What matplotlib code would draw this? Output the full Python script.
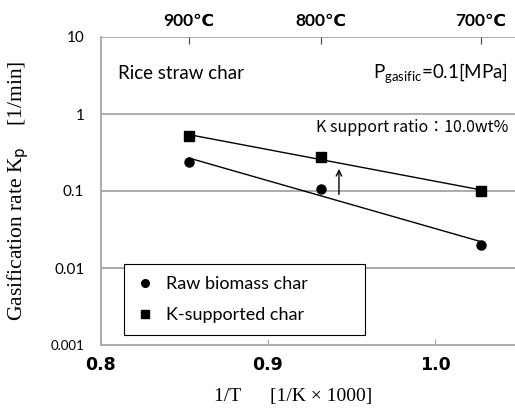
import numpy as np
import matplotlib
matplotlib.use("Agg")
import matplotlib.pyplot as plt
from matplotlib.lines import Line2D

# Data
temps_c = [900, 800, 700]
inv_T = [0.8525, 0.9319, 1.0276]          # 1/T [1/K x 1000]
raw_kp = [0.24, 0.106, 0.020]             # Raw biomass char
ksup_kp = [0.52, 0.274, 0.100]            # K-supported char
top_labels = ["900℃", "800℃", "700℃"]
x_ticks = [0.8, 0.9, 1.0]
x_ticklabels = ["0.8", "0.9", "1.0"]
y_ticks = [0.001, 0.01, 0.1, 1, 10]
y_ticklabels = ["0.001", "0.01", "0.1", "1", "10"]

sans = ["Lato", "DejaVu Sans"]
serif = ["Liberation Serif", "DejaVu Serif"]

fig = plt.figure(figsize=(5.15, 4.08), dpi=100)
ax = fig.add_axes([101/515, 1-345/408, 417.5/515, 308/408])
ax.set_yscale("log")
ax.set_xlim(0.8, 1.05)
ax.set_ylim(0.001, 10)

grid_c = "#a6a6a6"
for yv in y_ticks[1:]:
    ax.axhline(yv, color=grid_c, lw=1.3, zorder=0)

# exponential trend lines (least squares in log space)
xs = np.array(inv_T)
for vals in (raw_kp, ksup_kp):
    p = np.polyfit(xs, np.log10(vals), 1)
    xl = np.array([xs[0], xs[-1]])
    ax.plot(xl, 10**np.polyval(p, xl), color="black", lw=1.0, zorder=2)

ax.plot(inv_T, raw_kp, "o", color="black", ms=6.5, zorder=3, ls="none")
ax.plot(inv_T, ksup_kp, "s", color="black", ms=6.5, zorder=3, ls="none")

# spines
for s in ["top", "right"]:
    ax.spines[s].set_visible(False)
for s in ["left", "bottom"]:
    ax.spines[s].set_color(grid_c)
    ax.spines[s].set_linewidth(1.3)

ax.set_xticks(x_ticks)
ax.set_xticklabels(x_ticklabels, fontfamily="DejaVu Sans", fontweight="bold", fontsize=12.5)
ax.tick_params(axis="x", direction="in", length=4, color=grid_c, pad=8)
ax.set_yticks(y_ticks)
ax.set_yticklabels(y_ticklabels, fontfamily=sans, fontsize=11)
ax.yaxis.get_ticklabels()[0].set_fontsize(9.5)
ax.tick_params(axis="y", length=0, pad=12)
ax.minorticks_off()

# top axis with temperature
ax2 = ax.secondary_xaxis("top")
ax2.set_xticks(inv_T)
ax2.set_xticklabels(top_labels, fontfamily=sans, fontweight="bold", fontsize=12.5)
ax2.tick_params(direction="in", length=5, color="#404040", pad=6)
ax2.spines["top"].set_visible(False)

ax.set_xlabel("1/T      [1/K × 1000]", fontfamily=serif, fontsize=14)
ax.xaxis.set_label_coords(0.46, -0.14)
ax.set_ylabel("Gasification rate K$_\\mathrm{p}$    [1/min]", fontfamily=serif,
              fontsize=15.5, labelpad=14)

ax.text(0.041, 0.88, "Rice straw char", transform=ax.transAxes,
        fontfamily=sans, fontsize=13.5, va="center")
ax.text(0.975, 0.88, "P$_\\mathregular{gasific}$=0.1[MPa]", transform=ax.transAxes,
        fontfamily=sans, fontsize=13.5, va="center", ha="right")
ax.text(0.975, 0.705, "K support ratio：10.0wt%", transform=ax.transAxes,
        fontfamily=["Noto Sans CJK JP", "DejaVu Sans"], fontsize=11.5, va="center", ha="right")

ax.annotate("", xy=(0.9425, 0.21), xytext=(0.9425, 0.083),
            arrowprops=dict(arrowstyle="->", color="black", lw=1.0))

handles = [Line2D([], [], marker="o", color="black", ls="none", ms=5.5),
           Line2D([], [], marker="s", color="black", ls="none", ms=5.5)]
leg = ax.legend(handles, ["Raw biomass char", "K-supported char"],
                loc="lower left", bbox_to_anchor=(0.055, 0.032, 0.577, 0.234),
                mode="expand", fancybox=False, framealpha=1, edgecolor="black",
                prop={"family": sans, "size": 13}, handlelength=1.0,
                handletextpad=0.7, labelspacing=0.85, borderpad=0.65,
                borderaxespad=0)
leg.get_frame().set_linewidth(0.8)

fig.savefig("out.png", dpi=100)
